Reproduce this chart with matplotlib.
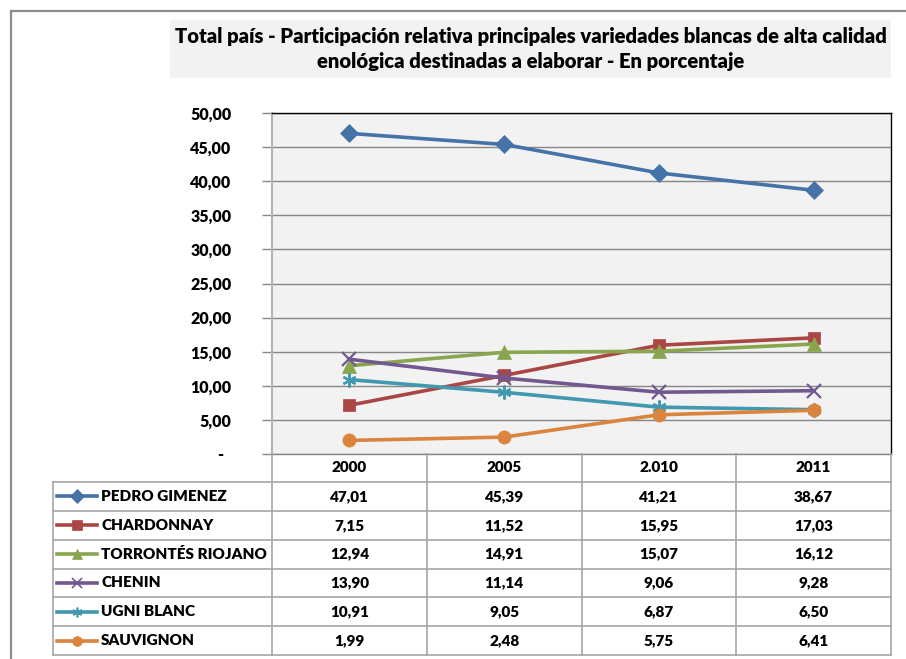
import matplotlib
matplotlib.use('Agg')
import matplotlib.pyplot as plt
from matplotlib.lines import Line2D
from matplotlib.patches import Rectangle
from matplotlib.ticker import FuncFormatter, MultipleLocator
import matplotlib.transforms as mtransforms

# ---------------- data ----------------
categories = ['2000', '2005', '2.010', '2011']
series_names = ['PEDRO GIMENEZ', 'CHARDONNAY', 'TORRONTÉS RIOJANO',
                'CHENIN', 'UGNI BLANC', 'SAUVIGNON']
pedro_gimenez = [47.01, 45.39, 41.21, 38.67]
chardonnay = [7.15, 11.52, 15.95, 17.03]
torrontes_riojano = [12.94, 14.91, 15.07, 16.12]
chenin = [13.90, 11.14, 9.06, 9.28]
ugni_blanc = [10.91, 9.05, 6.87, 6.50]
sauvignon = [1.99, 2.48, 5.75, 6.41]
series_values = [pedro_gimenez, chardonnay, torrontes_riojano,
                 chenin, ugni_blanc, sauvignon]
title = ('Total país - Participación relativa principales variedades blancas de alta calidad\n'
         'enológica destinadas a elaborar - En porcentaje')

# ---------------- styles ----------------
colors = ['#4572A7', '#AA4643', '#89A54E', '#71588F', '#4198AF', '#DB843D']
markers = ['D', 's', '^', 'x', (6, 2, 0), 'o']
msizes = [9, 9, 9.5, 10, 10, 9.5]
WEIGHT = 'heavy'

plt.rcParams['font.family'] = ['Lato', 'DejaVu Sans']

W, H = 906, 659
fig = plt.figure(figsize=(W / 100, H / 100), dpi=100)
fig.patch.set_facecolor('white')

def fx(px):
    return px / W

def fy(py):
    return 1 - py / H

# outer frame
fig.add_artist(Rectangle((fx(11), fy(700)), fx(950), (700 - 11) / H,
                         transform=fig.transFigure, fill=False,
                         edgecolor='#8c8c8c', linewidth=1.6))

# title box
fig.add_artist(Rectangle((fx(170), fy(78)), fx(891 - 170), (78 - 20) / H,
                         transform=fig.transFigure, facecolor='#f2f2f2',
                         edgecolor='none'))
fig.text(fx(531), fy(49), title, ha='center', va='center', fontsize=14.6,
         fontweight=WEIGHT, linespacing=1.35, color='black')

# plot axes
L, R, T, B = 272, 891, 113, 454
ax = fig.add_axes([fx(L), fy(B), fx(R - L), (B - T) / H])
ax.set_facecolor('#f2f2f2')
ax.set_xlim(-0.5, len(categories) - 0.5)
ax.set_ylim(0, 50)
ax.yaxis.set_major_locator(MultipleLocator(5))
ax.yaxis.set_major_formatter(FuncFormatter(
    lambda v, p: '-  ' if abs(v) < 1e-9 else f'{v:.2f}'.replace('.', ',')))
ax.set_xticks([])
ax.grid(axis='y', color='#868686', linewidth=1.0)
ax.set_axisbelow(True)
for side in ['top', 'right']:
    ax.spines[side].set_color('black')
    ax.spines[side].set_linewidth(1.0)
ax.spines['left'].set_color('#b3b3b3')
ax.spines['left'].set_linewidth(1.5)
ax.spines['bottom'].set_color('#868686')
ax.spines['bottom'].set_linewidth(1.0)
ax.tick_params(axis='y', direction='out', length=7, width=1, color='#868686',
               pad=22, labelsize=11.5)
for lab in ax.get_yticklabels():
    lab.set_fontweight(WEIGHT)

xs = list(range(len(categories)))
for vals, c, m, ms in zip(series_values, colors, markers, msizes):
    ax.plot(xs, vals, color=c, linewidth=2.6, marker=m, markersize=ms,
            markeredgewidth=1.6 if m in ('x', (6, 2, 0)) else 0.5,
            markeredgecolor=c, markerfacecolor=c, clip_on=False, zorder=3)

# ---------------- data table ----------------
trans = mtransforms.blended_transform_factory(ax.transData, fig.transFigure)
line_col = '#a6a6a6'
row_top = 482
row_bot = 655
nrows = len(series_names)
rh = (row_bot - row_top) / nrows

# vertical lines at category boundaries
for xb in [x - 0.5 for x in xs] + [xs[-1] + 0.5]:
    fig.add_artist(Line2D([xb, xb], [fy(B), fy(row_bot)], transform=trans,
                          color=line_col, linewidth=1.2))
# left border of label column
fig.add_artist(Line2D([fx(53), fx(53)], [fy(row_top), fy(row_bot)],
                      transform=fig.transFigure, color=line_col, linewidth=1.2))
# horizontal lines
for i in range(nrows + 1):
    yy = fy(row_top + i * rh)
    fig.add_artist(Line2D([fx(53), fx(R)], [yy, yy], transform=fig.transFigure,
                          color=line_col, linewidth=1.2))

# header
for x, cat in zip(xs, categories):
    fig.text(x, fy((B + row_top) / 2), cat, transform=trans, ha='center',
             va='center', fontsize=11, fontweight=WEIGHT)

for i, (name, vals, c, m) in enumerate(zip(series_names, series_values,
                                           colors, markers)):
    yc = fy(row_top + (i + 0.5) * rh)
    fig.add_artist(Line2D([fx(57), fx(97)], [yc, yc], transform=fig.transFigure,
                          color=c, linewidth=2.6))
    fig.add_artist(Line2D([fx(77)], [yc], transform=fig.transFigure,
                          color=c, marker=m, markersize=7,
                          markeredgewidth=1.2 if m in ('x', (6, 2, 0)) else 0.5,
                          markeredgecolor=c, markerfacecolor=c))
    fig.text(fx(101), yc, name, ha='left', va='center', fontsize=11,
             fontweight=WEIGHT)
    for x, v in zip(xs, vals):
        fig.text(x, yc, f'{v:.2f}'.replace('.', ','), transform=trans,
                 ha='center', va='center', fontsize=11, fontweight=WEIGHT)

fig.savefig('out.png', dpi=100)
